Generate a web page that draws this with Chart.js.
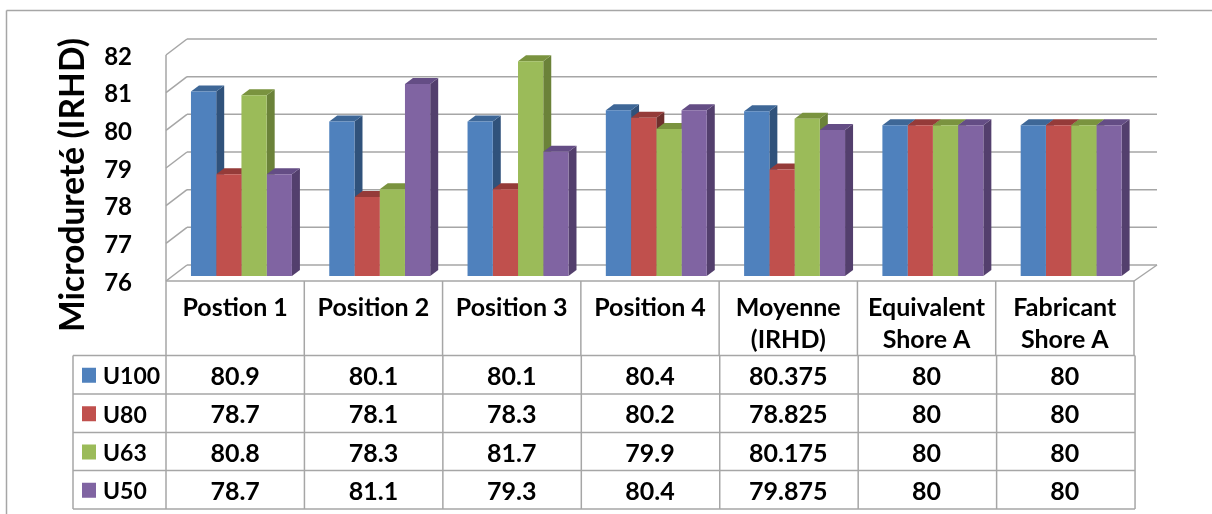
<!DOCTYPE html>
<html>
<head>
<meta charset="utf-8">
<style>
  html, body { margin: 0; padding: 0; background: #fff; overflow: hidden; }
  canvas { display: block; }
</style>
<script src="https://cdn.jsdelivr.net/npm/chart.js@4"></script>
</head>
<body>
<canvas id="chart" width="1212" height="514"></canvas>
<script>
const categories = ['Postion 1', 'Position 2', 'Position 3', 'Position 4', ['Moyenne', '(IRHD)'], ['Equivalent', 'Shore A'], ['Fabricant', 'Shore A']];
const seriesNames = ['U100', 'U80', 'U63', 'U50'];
const u100 = [80.9, 80.1, 80.1, 80.4, 80.375, 80, 80];
const u80 = [78.7, 78.1, 78.3, 80.2, 78.825, 80, 80];
const u63 = [80.8, 78.3, 81.7, 79.9, 80.175, 80, 80];
const u50 = [78.7, 81.1, 79.3, 80.4, 79.875, 80, 80];
const seriesValues = [u100, u80, u63, u50];

const front = ['#4f81bd', '#c0504d', '#9bbb59', '#8064a2'];
const sides = ['#30527b', '#6f2f2d', '#6b8239', '#533f6d'];
const tops = ['#3e6797', '#953b39', '#7a933f', '#644d85'];

const FONT = '"Lato", "Open Sans", sans-serif';
const LINE = '#a6a6a6';
// the tick labels sit 2px above their middle in this font, so the plot is moved down
// by that much and the walls and bars are moved back up
const nudge = 2;
const wallDx = 21, wallDy = -16 - nudge;
const barDx = 6.3, barDy = -5 - nudge;
const depthX = 8, depthY = -6;
const rowLines = [355.5, 394, 432.5, 470.5, 509];
const tableLeft = 73;

function seg(ctx, x1, y1, x2, y2) {
  ctx.beginPath();
  ctx.moveTo(x1, y1);
  ctx.lineTo(x2, y2);
  ctx.stroke();
}

function poly(ctx, pts, color) {
  ctx.fillStyle = color;
  ctx.beginPath();
  pts.forEach((p, i) => i ? ctx.lineTo(p[0], p[1]) : ctx.moveTo(p[0], p[1]));
  ctx.closePath();
  ctx.fill();
}

const chart3d = {
  id: 'chart3d',
  beforeDatasetsDraw(chart) {
    const ctx = chart.ctx;
    const a = chart.chartArea;
    const y = chart.scales.y;
    ctx.save();
    ctx.strokeStyle = LINE;
    ctx.lineWidth = 1.5;
    // outer frame, open on the right and at the bottom
    seg(ctx, 6.5, 10.5, 1212, 10.5);
    seg(ctx, 6.5, 10.5, 6.5, 514);
    // walls
    y.ticks.forEach(t => {
      const py = y.getPixelForValue(t.value);
      seg(ctx, a.left, py - nudge, a.left + wallDx, py + wallDy);
      seg(ctx, a.left + wallDx, py + wallDy, a.right + wallDx + 2, py + wallDy);
    });
    seg(ctx, a.left, a.top - nudge, a.left, a.bottom - nudge);
    seg(ctx, a.right, a.bottom - nudge, a.right + wallDx + 2, a.bottom + wallDy);
    ctx.restore();

    // bars sit a little inside the floor, the depth faces go under the fronts
    ctx.save();
    ctx.translate(barDx, barDy);
    const floor = a.bottom;
    chart.getSortedVisibleDatasetMetas().forEach((meta, d) => {
      meta.data.forEach(el => {
        const l = el.x - el.width / 2, r = el.x + el.width / 2;
        poly(ctx, [[r, el.y], [r + depthX, el.y + depthY], [r + depthX, floor + depthY], [r, floor]], sides[d]);
        poly(ctx, [[l, el.y], [l + depthX, el.y + depthY], [r + depthX, el.y + depthY], [r, el.y]], tops[d]);
      });
    });
  },
  afterDatasetsDraw(chart) {
    chart.ctx.restore();
  },
  afterDraw(chart) {
    const ctx = chart.ctx;
    const a = chart.chartArea;
    const x = chart.scales.x;
    const colW = (a.right - a.left) / categories.length;
    const head = a.bottom - nudge;
    ctx.save();

    // data table lines
    ctx.strokeStyle = LINE;
    ctx.lineWidth = 1.5;
    seg(ctx, a.left, head, a.right, head);
    for (let i = 0; i <= categories.length; i++) {
      seg(ctx, a.left + i * colW, head, a.left + i * colW, rowLines[0]);
      seg(ctx, a.left + i * (colW + 0.15), rowLines[0], a.left + i * (colW + 0.15), rowLines[4]);
    }
    seg(ctx, tableLeft, rowLines[0], tableLeft, rowLines[4]);
    rowLines.forEach(r => seg(ctx, tableLeft, r, a.right + 1, r));

    // table contents
    ctx.textBaseline = 'middle';
    seriesNames.forEach((name, s) => {
      const mid = (rowLines[s] + rowLines[s + 1]) / 2 + 1;
      ctx.fillStyle = front[s];
      ctx.fillRect(82, mid - 8, 14, 15);
      ctx.fillStyle = '#000';
      ctx.textAlign = 'left';
      ctx.font = 'bold 23px ' + FONT;
      ctx.fillText(name, 103, mid + 1);
      ctx.textAlign = 'center';
      ctx.font = 'bold 25px ' + FONT;
      seriesValues[s].forEach((v, i) => ctx.fillText(String(v), x.getPixelForValue(i), mid + 1));
    });

    // axis title
    ctx.translate(73, 185);
    ctx.rotate(-Math.PI / 2);
    ctx.font = 'bold 33.5px ' + FONT;
    ctx.textAlign = 'center';
    ctx.fillText('Microdureté (IRHD)', 0, 0);
    ctx.restore();
  }
};

new Chart(document.getElementById('chart'), {
  type: 'bar',
  data: {
    labels: categories,
    datasets: seriesNames.map((name, s) => ({
      label: name,
      data: seriesValues[s],
      backgroundColor: front[s],
      categoryPercentage: 0.73,
      barPercentage: 1
    }))
  },
  options: {
    responsive: false,
    animation: false,
    layout: { padding: { top: 55 + nudge, right: 78, left: 0, bottom: 0 } },
    plugins: { legend: { display: false }, title: { display: false }, tooltip: { enabled: false } },
    scales: {
      x: {
        grid: { display: false },
        border: { display: false },
        afterFit(scale) { scale.height = 233 - nudge; },
        ticks: {
          color: '#000',
          padding: 1,
          maxRotation: 0,
          autoSkip: false,
          font: { family: FONT, size: 25, weight: 'bold', lineHeight: 1.28 }
        }
      },
      y: {
        min: 76,
        max: 82,
        grid: { display: false },
        border: { display: false },
        afterFit(scale) { scale.width = 166; },
        ticks: {
          stepSize: 1,
          color: '#000',
          padding: 26,
          font: { family: FONT, size: 24, weight: 'bold' }
        }
      }
    }
  },
  plugins: [chart3d]
});
</script>
</body>
</html>
